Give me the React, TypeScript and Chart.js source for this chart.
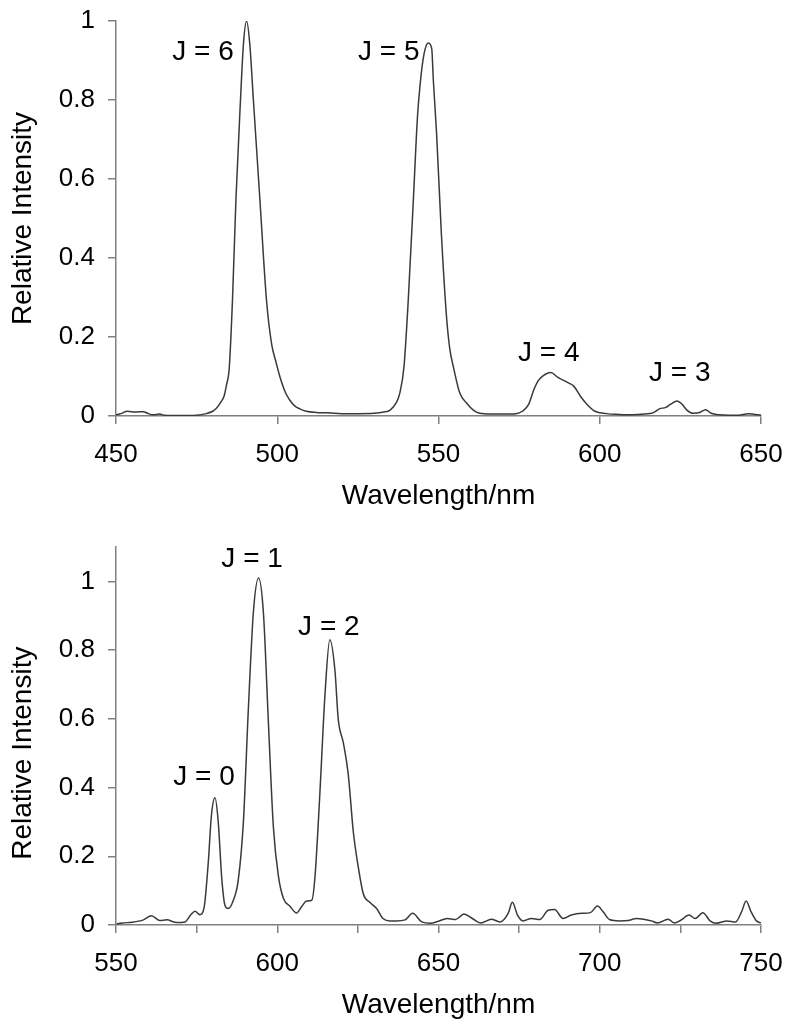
import React, { useEffect, useRef } from "react";
import { Chart, registerables } from "chart.js";

Chart.register(...registerables);

// ---------- Data ----------
const topWavelengths = [
  450, 451.5, 453.5, 456, 458.5, 460, 461.5, 463.5, 465, 470, 475, 478, 480, 481.2, 482.5, 483.5,
  484.3, 485.1, 486.1, 487.2, 488.6, 489.5, 490.5, 491.5, 492.6, 494.6, 496.7, 498.3, 499.5, 500.8,
  502.5, 503.9, 505.5, 507, 509, 512, 516, 520, 525, 530, 533, 535, 537, 538, 539.3, 540.6, 542.2,
  543.5, 544.2, 545, 545.8, 546.8, 547.9, 548.4, 549.4, 550.9, 552.5, 553.5, 554.6, 556.6, 558.7,
  560.8, 562.8, 566, 570, 574, 576, 578, 579.5, 581, 582.5, 584.8, 587, 590, 592, 594, 596, 598.5,
  602, 606, 610, 614, 616.5, 618.5, 620.5, 622, 624, 625.5, 627, 629, 631, 632.8, 634.5, 637, 640,
  643, 646, 648, 650,
];
const topIntensity = [
  0.003, 0.006, 0.012, 0.01, 0.011, 0.006, 0.003, 0.005, 0.002, 0.001, 0.002, 0.006, 0.012, 0.02,
  0.035, 0.05, 0.08, 0.12, 0.29, 0.55, 0.8, 0.94, 1.0, 0.94, 0.8, 0.55, 0.29, 0.18, 0.14, 0.1, 0.06,
  0.04, 0.025, 0.018, 0.012, 0.009, 0.008, 0.006, 0.006, 0.007, 0.01, 0.015, 0.035, 0.058, 0.125,
  0.29, 0.547, 0.76, 0.83, 0.89, 0.927, 0.944, 0.93, 0.85, 0.716, 0.46, 0.25, 0.17, 0.125, 0.058,
  0.033, 0.015, 0.007, 0.005, 0.005, 0.006, 0.012, 0.03, 0.065, 0.09, 0.102, 0.11, 0.098, 0.085,
  0.075, 0.05, 0.03, 0.012, 0.006, 0.004, 0.003, 0.005, 0.008, 0.018, 0.022, 0.03, 0.038, 0.03,
  0.015, 0.007, 0.009, 0.016, 0.007, 0.003, 0.002, 0.002, 0.006, 0.004, 0.002,
];

const bottomWavelengths = [
  550.2, 552, 555, 558.5, 561, 563.6, 565.7, 568.8, 571.4, 573.2, 574.5, 576, 577.3, 578.6, 579.6,
  580.7, 581.7, 582.8, 583.8, 584.8, 586.3, 587.9, 589.5, 591, 592.6, 594.2, 595.7, 597.3, 598.8,
  600.4, 601.9, 604, 606, 607.6, 609.1, 610.7, 611.7, 613.2, 614.8, 616.3, 617.9, 618.9, 620.5, 622,
  623.6, 625.1, 626.7, 628.7, 630.8, 632.9, 635, 637, 639.6, 642, 644.8, 647.5, 650, 652.7, 655.3,
  657.9, 660.5, 663.1, 666.4, 669, 671.6, 672.9, 674.5, 676.2, 678.8, 681.4, 684, 686, 688.6, 691.2,
  694.5, 697.1, 699.3, 701, 703, 706.2, 708.8, 711.4, 714, 716, 717.9, 721.2, 723.1, 725, 727.7,
  729.6, 732, 734.2, 736.2, 739.5, 742.1, 744, 745.4, 746.9, 748.6, 750,
];
const bottomIntensity = [
  0.003, 0.006, 0.008, 0.015, 0.027, 0.013, 0.015, 0.007, 0.009, 0.03, 0.04, 0.03, 0.05, 0.18, 0.32,
  0.37, 0.3, 0.135, 0.057, 0.048, 0.07, 0.13, 0.3, 0.62, 0.91, 1.01, 0.91, 0.58, 0.285, 0.14, 0.078,
  0.054, 0.035, 0.054, 0.07, 0.072, 0.14, 0.38, 0.67, 0.83, 0.74, 0.6, 0.53, 0.44, 0.27, 0.17, 0.09,
  0.066, 0.048, 0.018, 0.012, 0.012, 0.015, 0.034, 0.009, 0.005, 0.011, 0.019, 0.016, 0.032, 0.019,
  0.006, 0.017, 0.009, 0.034, 0.066, 0.029, 0.012, 0.019, 0.016, 0.043, 0.045, 0.019, 0.029, 0.034,
  0.036, 0.055, 0.039, 0.016, 0.012, 0.013, 0.019, 0.016, 0.012, 0.006, 0.017, 0.006, 0.013, 0.029,
  0.019, 0.036, 0.012, 0.005, 0.012, 0.009, 0.039, 0.07, 0.039, 0.012, 0.006,
];

const yTicks = [0, 0.2, 0.4, 0.6, 0.8, 1];
const topXTicks = [450, 500, 550, 600, 650];
const bottomXTicks = [550, 575, 600, 625, 650, 675, 700, 725, 750];
const bottomXLabelled = [550, 600, 650, 700, 750];

const topLabels = ["J = 6", "J = 5", "J = 4", "J = 3"];
const topLabelX = [477, 534.6, 584.2, 624.8];
const topLabelY = [0.92, 0.92, 0.16, 0.109];

const bottomLabels = ["J = 0", "J = 1", "J = 2"];
const bottomLabelX = [577.3, 592.2, 616];
const bottomLabelY = [0.43, 1.064, 0.866];

const X_TITLE = "Wavelength/nm";
const Y_TITLE = "Relative Intensity";

// ---------- Styling ----------
const FONT = '"Liberation Sans", Arial, Helvetica, sans-serif';
const AXIS_COLOR = "#808080";
const LINE_COLOR = "#3a3a3a";

function fmtY(v: number) {
  return String(Math.round(v * 10) / 10);
}

function makeTextPlugin(labels: string[], xs: number[], ys: number[]) {
  return {
    id: "specText",
    afterDraw(chart: any) {
      const ctx = chart.ctx;
      const xScale = chart.scales.x;
      const yScale = chart.scales.y;
      ctx.save();
      ctx.fillStyle = "#000";
      ctx.font = `28px ${FONT}`;
      ctx.textAlign = "center";
      ctx.textBaseline = "middle";
      labels.forEach((t, i) => {
        ctx.fillText(t, xScale.getPixelForValue(xs[i]), yScale.getPixelForValue(ys[i]));
      });
      ctx.translate(23, yScale.getPixelForValue(0.5));
      ctx.rotate(-Math.PI / 2);
      ctx.fillText(Y_TITLE, 0, 0);
      ctx.restore();
    },
  };
}

interface SpecProps {
  wavelengths: number[];
  intensity: number[];
  xMin: number;
  xMax: number;
  yMax: number;
  xTicks: number[];
  xLabelled: number[];
  labels: string[];
  labelX: number[];
  labelY: number[];
  height: number;
  padTop: number;
  xAxisHeight: number;
  titlePadBottom: number;
}

function Spectrum(p: SpecProps) {
  const ref = useRef<HTMLCanvasElement | null>(null);
  useEffect(() => {
    if (!ref.current) return;
    const chart = new Chart(ref.current, {
      type: "line",
      data: {
        datasets: [
          {
            data: p.wavelengths.map((w, i) => ({ x: w, y: p.intensity[i] })),
            borderColor: LINE_COLOR,
            borderWidth: 1.5,
            pointRadius: 0,
            fill: false,
            cubicInterpolationMode: "monotone",
          },
        ],
      },
      options: {
        animation: false,
        responsive: false,
        layout: { autoPadding: false, padding: { left: 0, right: 39, top: p.padTop, bottom: 0 } },
        plugins: { legend: { display: false }, tooltip: { enabled: false }, title: { display: false } },
        scales: {
          x: {
            type: "linear",
            min: p.xMin,
            max: p.xMax,
            afterBuildTicks: (s: any) => {
              s.ticks = p.xTicks.map((v) => ({ value: v }));
            },
            afterFit: (s: any) => {
              s.height = p.xAxisHeight;
              s.paddingLeft = 0;
              s.paddingRight = 0;
            },
            ticks: {
              autoSkip: false,
              maxRotation: 0,
              padding: 15,
              color: "#000",
              font: { size: 26, family: FONT },
              callback: (v: any) => (p.xLabelled.includes(Number(v)) ? String(v) : ""),
            },
            grid: {
              display: true,
              drawOnChartArea: false,
              drawTicks: true,
              tickLength: 8,
              color: AXIS_COLOR,
              lineWidth: 1.5,
            },
            border: { display: true, color: AXIS_COLOR, width: 1.5 },
            title: {
              display: true,
              text: X_TITLE,
              color: "#000",
              font: { size: 28, family: FONT },
              padding: { top: 0, bottom: p.titlePadBottom },
            },
          },
          y: {
            type: "linear",
            min: 0,
            max: p.yMax,
            afterBuildTicks: (s: any) => {
              s.ticks = yTicks.map((v) => ({ value: v }));
            },
            afterFit: (s: any) => {
              s.width = 116;
              s.paddingTop = 0;
              s.paddingBottom = 0;
            },
            ticks: {
              padding: 13,
              color: "#000",
              font: { size: 26, family: FONT },
              callback: (v: any) => fmtY(Number(v)),
            },
            grid: {
              display: true,
              drawOnChartArea: false,
              drawTicks: true,
              tickLength: 8,
              color: AXIS_COLOR,
              lineWidth: 1.5,
            },
            border: { display: true, color: AXIS_COLOR, width: 1.5 },
            title: { display: false },
          },
        },
      } as any,
      plugins: [makeTextPlugin(p.labels, p.labelX, p.labelY)],
    });
    return () => chart.destroy();
  }, []);
  return <canvas ref={ref} width={800} height={p.height} style={{ display: "block" }} />;
}

export default function App() {
  return (
    <div style={{ position: "absolute", left: 0, top: 0, width: 800, height: 1031, background: "#fff" }}>
      <Spectrum
        wavelengths={topWavelengths}
        intensity={topIntensity}
        xMin={450}
        xMax={650}
        yMax={1}
        xTicks={topXTicks}
        xLabelled={topXTicks}
        labels={topLabels}
        labelX={topLabelX}
        labelY={topLabelY}
        height={520}
        padTop={21}
        xAxisHeight={104}
        titlePadBottom={7}
      />
      <Spectrum
        wavelengths={bottomWavelengths}
        intensity={bottomIntensity}
        xMin={550}
        xMax={750}
        yMax={1.1}
        xTicks={bottomXTicks}
        xLabelled={bottomXLabelled}
        labels={bottomLabels}
        labelX={bottomLabelX}
        labelY={bottomLabelY}
        height={511}
        padTop={27}
        xAxisHeight={106}
        titlePadBottom={9}
      />
    </div>
  );
}
